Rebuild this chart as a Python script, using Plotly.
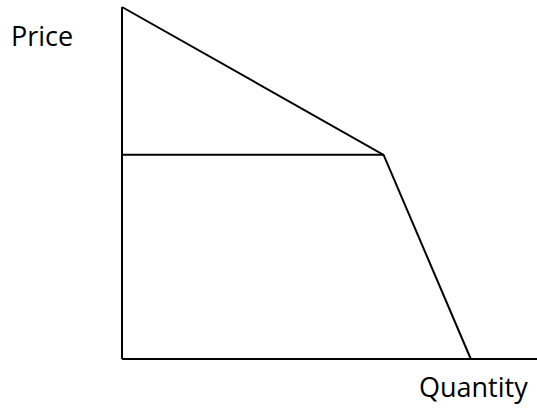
import plotly.graph_objects as go

# Demand curve (kinked), in economic units
demand_q = [0, 6, 8]
demand_p = [10, 5.8, 0]
# Horizontal price line at the kink
price_line_q = [0, 6]
price_line_p = [5.8, 5.8]
# Axes extents
y_axis_q = [0, 0]
y_axis_p = [0, 10]
x_axis_q = [0, 9.52]
x_axis_p = [0, 0]
axis_labels = ["Price", "Quantity"]

line = dict(color="black", width=2)
fig = go.Figure()
fig.add_trace(go.Scatter(x=y_axis_q, y=y_axis_p, mode="lines", line=line, hoverinfo="skip"))
fig.add_trace(go.Scatter(x=x_axis_q, y=x_axis_p, mode="lines", line=line, hoverinfo="skip"))
fig.add_trace(go.Scatter(x=price_line_q, y=price_line_p, mode="lines", line=line, hoverinfo="skip"))
fig.add_trace(go.Scatter(x=demand_q, y=demand_p, mode="lines", line=line, hoverinfo="skip"))

font = dict(family="Open Sans", size=27, color="black")
fig.add_annotation(x=-1.835, y=9.18, text=axis_labels[0], showarrow=False, font=font)
fig.add_annotation(x=8.06, y=-0.77, text=axis_labels[1], showarrow=False, font=font)

fig.update_layout(
    width=537, height=408,
    margin=dict(l=0, r=0, t=0, b=0),
    paper_bgcolor="white", plot_bgcolor="white",
    showlegend=False,
    xaxis=dict(range=[-2.798, 9.518], visible=False, fixedrange=True),
    yaxis=dict(range=[-1.392, 10.199], visible=False, fixedrange=True),
)
fig.write_html(
    "out.html",
    config={"displayModeBar": False},
    post_script="document.body.style.margin='0';document.body.style.overflow='hidden';",
)
